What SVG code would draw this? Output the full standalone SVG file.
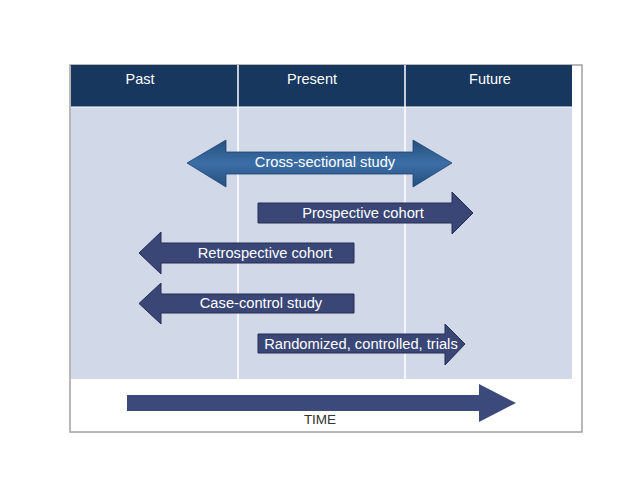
<svg xmlns="http://www.w3.org/2000/svg" width="638" height="479" viewBox="0 0 638 479">
<style>
.hdr{font-family:"Liberation Sans",Arial,sans-serif;font-size:14.5px;fill:#ffffff;text-anchor:middle}
.lbl{font-family:"Liberation Sans",Arial,sans-serif;font-size:14.7px;fill:#ffffff;text-anchor:middle;dominant-baseline:central}
.arr{fill:#3a4776;stroke:#242d52;stroke-width:1}
.time{font-family:"Liberation Sans",Arial,sans-serif;font-size:13.5px;fill:#333333;text-anchor:middle}
</style>
<defs>
<linearGradient id="g1" x1="0" y1="0" x2="0" y2="1">
<stop offset="0" stop-color="#24507f"/>
<stop offset="0.5" stop-color="#3c6ea6"/>
<stop offset="1" stop-color="#24507f"/>
</linearGradient>
</defs>
<rect x="0" y="0" width="638" height="479" fill="#ffffff"/>
<g id="frame">
<rect x="70" y="65" width="512" height="367" fill="#ffffff" stroke="#a0a0a0" stroke-width="1.5"/>
<rect x="71" y="65" width="501" height="42" fill="#17375e"/>
<rect x="71" y="107" width="501" height="272" fill="#d1d9e9"/>
<line x1="238" y1="65" x2="238" y2="379" stroke="#ffffff" stroke-width="1.5"/>
<line x1="405" y1="65" x2="405" y2="379" stroke="#ffffff" stroke-width="1.5"/>
<line x1="71" y1="107" x2="572" y2="107" stroke="#ffffff" stroke-width="1"/>
</g>
<g id="headers">
<text class="hdr" x="140" y="84">Past</text>
<text class="hdr" x="312" y="84">Present</text>
<text class="hdr" x="490" y="84">Future</text>
</g>
<g id="connectors">
<g id="cross-sectional">
<polygon points="187,163 226,140 226,152 413,152 413,140 452,163 413,187 413,174 226,174 226,187" fill="url(#g1)" stroke="#1f4270" stroke-width="0.8"/>
<text class="lbl" x="325" y="162">Cross-sectional study</text>
</g>
<g id="prospective">
<polygon class="arr" points="258,203 452,203 452,192 473,213 452,234 452,223 258,223"/>
<text class="lbl" x="363" y="212.5">Prospective cohort</text>
</g>
<g id="retrospective">
<polygon class="arr" points="354,243 161,243 161,232 139,253 161,274 161,263 354,263"/>
<text class="lbl" x="265" y="252.5">Retrospective cohort</text>
</g>
<g id="case-control">
<polygon class="arr" points="354,294 161,294 161,283 139,303.5 161,324 161,313 354,313"/>
<text class="lbl" x="261" y="302.5">Case-control study</text>
</g>
<g id="rct">
<polygon class="arr" points="258,334 445,334 445,324 465,344 445,365 445,353 258,353"/>
<text class="lbl" x="361" y="343.5">Randomized, controlled, trials</text>
</g>
<g id="time">
<polygon points="127,395 479,395 479,384 516,403 479,422 479,411 127,411" fill="#3c4a7b"/>
<text class="time" x="320" y="424">TIME</text>
</g>
</g>
</svg>
